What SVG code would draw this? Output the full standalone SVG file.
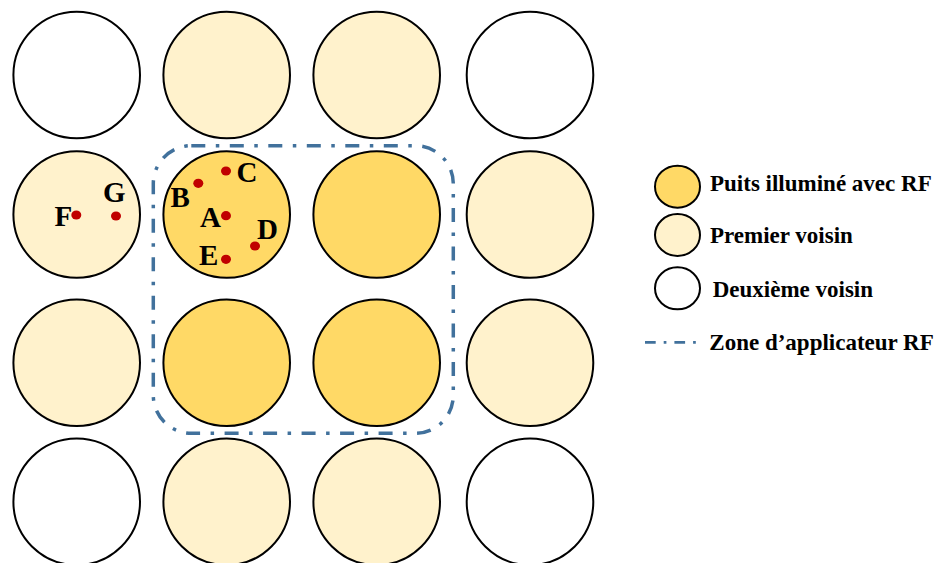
<svg xmlns="http://www.w3.org/2000/svg" width="941" height="563" viewBox="0 0 941 563">
<style>
  .well { stroke: #000; stroke-width: 2; }
  .dark { fill: #FFD966; }
  .light { fill: #FFF2CC; }
  .white { fill: #FFFFFF; }
  .pt { fill: #C00000; }
  .lbl { font-family: "Liberation Serif", "Times New Roman", serif; font-weight: bold; font-size: 29px; fill: #000; }
  .leg { font-family: "Liberation Serif", "Times New Roman", serif; font-weight: bold; font-size: 23px; fill: #000; }
  .zone { fill: none; stroke: #41719C; stroke-width: 3.5; stroke-dasharray: 14 10.5 3.5 10.5; }
  .zoneleg { fill: none; stroke: #41719C; stroke-width: 2.7; stroke-dasharray: 10.7 8 2.7 8; }
</style>
<rect width="941" height="563" fill="#FFFFFF"/>
<g id="wells">
  <g id="w11"><circle class="well white" cx="76.7" cy="75" r="63.3"/></g>
  <g id="w12"><circle class="well light" cx="226.7" cy="75" r="63.3"/></g>
  <g id="w13"><circle class="well light" cx="376.7" cy="75" r="63.3"/></g>
  <g id="w14"><circle class="well white" cx="530" cy="75" r="63.3"/></g>
  <g id="w21"><circle class="well light" cx="76.7" cy="214.5" r="63.3"/></g>
  <g id="w22"><circle class="well dark" cx="226.7" cy="214.5" r="63.3"/></g>
  <g id="w23"><circle class="well dark" cx="376.7" cy="214.5" r="63.3"/></g>
  <g id="w24"><circle class="well light" cx="530" cy="214.5" r="63.3"/></g>
  <g id="w31"><circle class="well light" cx="76.7" cy="362.7" r="63.3"/></g>
  <g id="w32"><circle class="well dark" cx="226.7" cy="362.7" r="63.3"/></g>
  <g id="w33"><circle class="well dark" cx="376.7" cy="362.7" r="63.3"/></g>
  <g id="w34"><circle class="well light" cx="530" cy="362.7" r="63.3"/></g>
  <g id="w41"><circle class="well white" cx="76.7" cy="501.7" r="63.3"/></g>
  <g id="w42"><circle class="well light" cx="226.7" cy="501.7" r="63.3"/></g>
  <g id="w43"><circle class="well light" cx="376.7" cy="501.7" r="63.3"/></g>
  <g id="w44"><circle class="well white" cx="530" cy="501.7" r="63.3"/></g>
</g>
<g id="zone"><rect class="zone" x="153.3" y="145.7" width="300" height="287.6" rx="38" ry="38"/></g>
<g id="points">
  <g id="pA"><ellipse class="pt" cx="226" cy="215.7" rx="5" ry="4.6"/><text class="lbl" x="200" y="226.5">A</text></g>
  <g id="pB"><ellipse class="pt" cx="198.3" cy="183.3" rx="5" ry="4.6"/><text class="lbl" x="170.5" y="207.3">B</text></g>
  <g id="pC"><ellipse class="pt" cx="226" cy="171" rx="5" ry="4.6"/><text class="lbl" x="236.5" y="182.3">C</text></g>
  <g id="pD"><ellipse class="pt" cx="255" cy="246" rx="5" ry="4.6"/><text class="lbl" x="257" y="239">D</text></g>
  <g id="pE"><ellipse class="pt" cx="226" cy="259.3" rx="5" ry="4.6"/><text class="lbl" x="199" y="265">E</text></g>
  <g id="pF"><ellipse class="pt" cx="76.3" cy="215" rx="5" ry="4.6"/><text class="lbl" x="54.5" y="226">F</text></g>
  <g id="pG"><ellipse class="pt" cx="116" cy="216" rx="5" ry="4.6"/><text class="lbl" x="103" y="201.7">G</text></g>
</g>
<g id="legend">
  <g id="leg1"><ellipse class="well dark" cx="677.5" cy="186.7" rx="22.5" ry="21"/><text class="leg" x="710" y="191">Puits illuminé avec RF</text></g>
  <g id="leg2"><ellipse class="well light" cx="677.5" cy="235" rx="22.5" ry="21"/><text class="leg" x="710" y="243.3">Premier voisin</text></g>
  <g id="leg3"><ellipse class="well white" cx="677.5" cy="288.3" rx="22.5" ry="21"/><text class="leg" x="712.7" y="296.7">Deuxième voisin</text></g>
  <g id="leg4"><line class="zoneleg" x1="645" y1="342.3" x2="697" y2="342.3"/><text class="leg" x="709.3" y="350">Zone d’applicateur RF</text></g>
</g>
</svg>
